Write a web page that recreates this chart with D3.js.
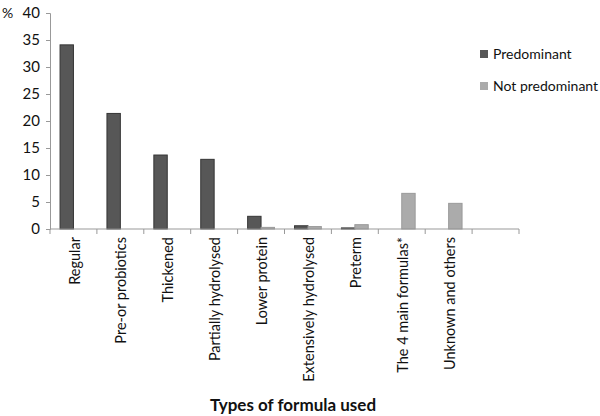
<!DOCTYPE html>
<html>
<head>
<meta charset="utf-8">
<script src="https://cdn.jsdelivr.net/npm/d3@7"></script>
<style>
  body { margin: 0; background: #fff; }
  svg text { font-family: Lato, "Open Sans", sans-serif; fill: #111; }
</style>
</head>
<body>
<div id="chart"></div>
<script>
// data
var categories = ["Regular", "Pre-or probiotics", "Thickened", "Partially hydrolysed",
  "Lower protein", "Extensively hydrolysed", "Preterm", "The 4 main formulas*",
  "Unknown and others", ""];
var predominant = [34.1, 21.4, 13.7, 12.9, 2.35, 0.6, 0.2, 0, 0, 0];
var notPredominant = [0, 0, 0, 0, 0.3, 0.45, 0.8, 6.6, 4.75, 0];
var seriesNames = ["Predominant", "Not predominant"];
var yTicks = [0, 5, 10, 15, 20, 25, 30, 35, 40];

var width = 600, height = 416;
var fills = ["#575757", "#ababab"];
var strokes = ["#353535", "#9a9a9a"];

var svg = d3.select("#chart").append("svg")
  .attr("width", width)
  .attr("height", height);

var x = d3.scaleBand()
  .domain(categories)
  .range([50, 519])
  .padding(0);

var y = d3.scaleLinear()
  .domain([0, 40])
  .range([229, 13]);

// Excel style: gap width 150%
var bw = x.bandwidth() / 3.5;
var off = x.bandwidth() * 0.75 / 3.5;

var series = [predominant, notPredominant];
series.forEach(function(vals, s) {
  svg.append("g").selectAll("rect")
    .data(vals)
    .enter()
    .append("rect")
    .attr("x", function(d, i) { return x(categories[i]) + off + s * bw; })
    .attr("width", bw)
    .attr("y", function(d) { return y(d); })
    .attr("height", function(d) { return y(0) - y(d); })
    .attr("fill", fills[s])
    .attr("stroke", strokes[s])
    .attr("stroke-width", d => d > 0 ? 1 : 0);
});

// y axis
var yAxis = svg.append("g")
  .attr("transform", "translate(50,0)")
  .call(d3.axisLeft(y).tickValues(yTicks).tickSize(4).tickPadding(6));
yAxis.select(".domain").attr("stroke", "#999");
yAxis.selectAll(".tick line").attr("stroke", "#999");
yAxis.selectAll("text").style("font-size", "15px").attr("fill", "#111");

// x axis with ticks between categories
var xAxis = svg.append("g")
  .attr("transform", "translate(0,229)");
xAxis.append("line")
  .attr("x1", 50).attr("x2", 519)
  .attr("stroke", "#999");
xAxis.selectAll(".sep")
  .data(categories.concat(["end"]))
  .enter()
  .append("line")
  .attr("x1", function(d, i) { return i < categories.length ? x(d) : x.range()[1]; })
  .attr("x2", function(d, i) { return i < categories.length ? x(d) : x.range()[1]; })
  .attr("y1", 0).attr("y2", 5)
  .attr("stroke", "#999");

xAxis.selectAll(".lab")
  .data(categories)
  .enter()
  .append("text")
  .attr("transform", function(d) {
    return "translate(" + (x(d) + x.bandwidth() / 2 + 1) + ",8) rotate(-90)";
  })
  .attr("text-anchor", "end")
  .attr("dy", "0.35em")
  .style("font-size", "14.5px")
  .text(function(d) { return d; });

// unit label
svg.append("text")
  .attr("x", 2).attr("y", 18)
  .style("font-size", "14px")
  .text("%");

// axis title
svg.append("text")
  .attr("x", 293).attr("y", 411)
  .attr("text-anchor", "middle")
  .style("font-size", "17px")
  .style("font-weight", "bold")
  .text("Types of formula used");

// legend
var legend = svg.append("g");
seriesNames.forEach(function(name, s) {
  var ly = 54 + s * 32;
  legend.append("rect")
    .attr("x", 480).attr("y", ly - 4)
    .attr("width", 8).attr("height", 8)
    .attr("fill", fills[s]);
  legend.append("text")
    .attr("x", 493).attr("y", ly)
    .attr("dy", "0.35em")
    .style("font-size", "14px")
    .text(name);
});
</script>
</body>
</html>
